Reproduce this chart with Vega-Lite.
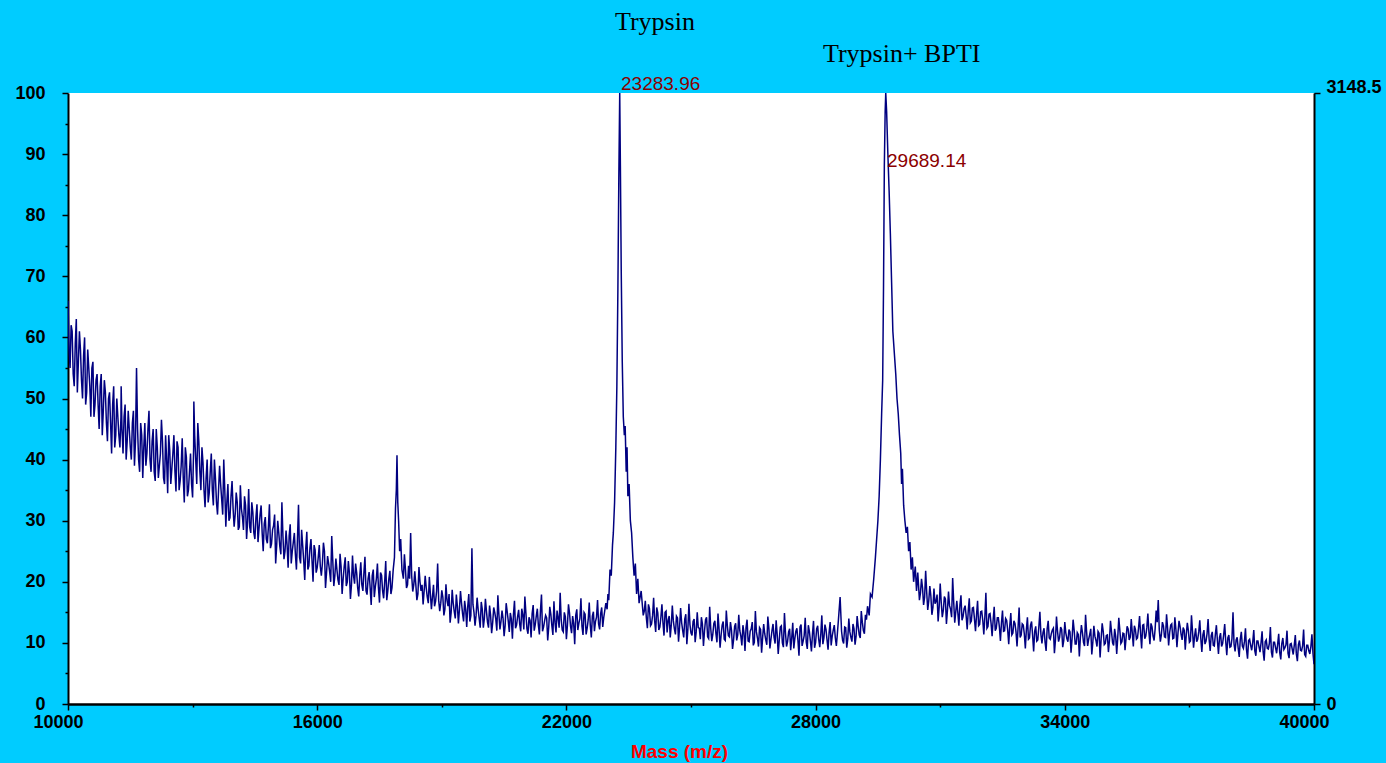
{
"$schema": "https://vega.github.io/schema/vega-lite/v6.json",
"width": 1246,
"height": 611,
"autosize": {"type": "none"},
"padding": {"left": 68, "top": 93, "right": 72, "bottom": 59},
"background": "#00CCFF",
"config": {"font": "Liberation Sans", "view": {"fill": "white", "stroke": null}},
"datasets": {
"spectrum": [
{"m":10000,"i":66},{"m":10050,"i":55},{"m":10100,"i":61},{"m":10150,"i":52},{"m":10200,"i":63},{"m":10250,"i":56},{"m":10300,"i":58},{"m":10350,"i":50},{"m":10400,"i":60},{"m":10450,"i":51},
{"m":10500,"i":55},{"m":10550,"i":47},{"m":10600,"i":56},{"m":10650,"i":49},{"m":10700,"i":54},{"m":10750,"i":45},{"m":10800,"i":54},{"m":10850,"i":48},{"m":10900,"i":51},{"m":10950,"i":43},
{"m":11000,"i":51},{"m":11050,"i":41},{"m":11100,"i":52},{"m":11150,"i":44},{"m":11200,"i":47},{"m":11250,"i":42},{"m":11280,"i":52},{"m":11300,"i":45},{"m":11350,"i":47},{"m":11400,"i":40},
{"m":11450,"i":48},{"m":11500,"i":42},{"m":11550,"i":46},{"m":11600,"i":39},{"m":11650,"i":55},{"m":11700,"i":40},{"m":11750,"i":46},{"m":11800,"i":37},{"m":11850,"i":46},{"m":11900,"i":41},
{"m":11950,"i":48},{"m":12000,"i":38},{"m":12050,"i":45},{"m":12100,"i":36.5},{"m":12150,"i":42},{"m":12200,"i":39},{"m":12250,"i":46.5},{"m":12300,"i":37},{"m":12350,"i":44},{"m":12400,"i":34.5},
{"m":12450,"i":41.5},{"m":12500,"i":38.5},{"m":12550,"i":44},{"m":12600,"i":34.8},{"m":12650,"i":42},{"m":12700,"i":36.5},{"m":12750,"i":43.5},{"m":12800,"i":33},{"m":12850,"i":40.4},{"m":12900,"i":35},
{"m":12950,"i":41},{"m":13000,"i":33.8},{"m":13030,"i":49.5},{"m":13050,"i":44},{"m":13100,"i":36},{"m":13150,"i":43},{"m":13200,"i":35},{"m":13250,"i":39.5},{"m":13300,"i":32.2},{"m":13350,"i":40},
{"m":13400,"i":34.5},{"m":13450,"i":41},{"m":13500,"i":32.5},{"m":13550,"i":37},{"m":13600,"i":31},{"m":13650,"i":39},{"m":13700,"i":33.5},{"m":13750,"i":40},{"m":13800,"i":29},{"m":13850,"i":36},
{"m":13900,"i":30.5},{"m":13950,"i":36.5},{"m":14000,"i":29},{"m":14050,"i":34.6},{"m":14100,"i":28.5},{"m":14150,"i":35.8},{"m":14200,"i":30.6},{"m":14250,"i":34},{"m":14300,"i":27},{"m":14350,"i":35.2},
{"m":14400,"i":28},{"m":14450,"i":31.4},{"m":14500,"i":27},{"m":14550,"i":32.7},{"m":14600,"i":28.8},{"m":14650,"i":32.5},{"m":14700,"i":25},{"m":14750,"i":30.6},{"m":14800,"i":26.3},{"m":14850,"i":32.7},
{"m":14900,"i":26.2},{"m":14950,"i":29.2},{"m":15000,"i":23},{"m":15050,"i":30},{"m":15100,"i":25.8},{"m":15150,"i":33},{"m":15200,"i":23.7},{"m":15250,"i":28.4},{"m":15300,"i":22.3},{"m":15350,"i":29.4},
{"m":15400,"i":25},{"m":15450,"i":28},{"m":15500,"i":22},{"m":15550,"i":32.6},{"m":15600,"i":23},{"m":15650,"i":26},{"m":15700,"i":20.3},{"m":15750,"i":28.2},{"m":15800,"i":22.6},{"m":15850,"i":27},
{"m":15900,"i":20},{"m":15950,"i":25.2},{"m":16000,"i":22.3},{"m":16050,"i":26},{"m":16100,"i":21},{"m":16150,"i":26.4},{"m":16200,"i":19},{"m":16250,"i":24.2},{"m":16300,"i":21.6},{"m":16350,"i":27.5},
{"m":16400,"i":19.3},{"m":16450,"i":23.8},{"m":16500,"i":20.3},{"m":16550,"i":24.6},{"m":16600,"i":18},{"m":16650,"i":22.5},{"m":16700,"i":19.3},{"m":16750,"i":23.4},{"m":16800,"i":17.2},{"m":16850,"i":24.3},
{"m":16900,"i":19.7},{"m":16950,"i":21.5},{"m":17000,"i":17.6},{"m":17050,"i":23.2},{"m":17100,"i":18.5},{"m":17150,"i":24.1},{"m":17200,"i":17.9},{"m":17250,"i":21.6},{"m":17300,"i":16.2},{"m":17350,"i":22},
{"m":17400,"i":19.2},{"m":17450,"i":23},{"m":17500,"i":16.6},{"m":17550,"i":21.1},{"m":17600,"i":17.3},{"m":17650,"i":23.4},{"m":17700,"i":18.5},{"m":17750,"i":21.8},{"m":17800,"i":19},{"m":17830,"i":22},
{"m":17860,"i":24},{"m":17885,"i":32},{"m":17905,"i":35},{"m":17921,"i":40.7},{"m":17940,"i":33},{"m":17960,"i":30},{"m":17985,"i":25},{"m":18010,"i":27},{"m":18040,"i":22},{"m":18100,"i":24.5},
{"m":18150,"i":19},{"m":18200,"i":22.6},{"m":18250,"i":28},{"m":18300,"i":18.4},{"m":18350,"i":21.7},{"m":18400,"i":17},{"m":18450,"i":22.4},{"m":18500,"i":18.5},{"m":18550,"i":16.3},{"m":18600,"i":21},
{"m":18650,"i":17.5},{"m":18700,"i":20.8},{"m":18750,"i":15.5},{"m":18800,"i":19.5},{"m":18850,"i":16.8},{"m":18900,"i":23},{"m":18950,"i":15.2},{"m":19000,"i":18.6},{"m":19050,"i":14.5},{"m":19100,"i":19.6},
{"m":19150,"i":16},{"m":19200,"i":13.3},{"m":19250,"i":18.7},{"m":19300,"i":15.1},{"m":19350,"i":17.9},{"m":19400,"i":13.2},{"m":19450,"i":18.5},{"m":19500,"i":14.8},{"m":19550,"i":16.9},{"m":19600,"i":12.6},
{"m":19650,"i":18},{"m":19700,"i":14.5},{"m":19725,"i":25.5},{"m":19750,"i":16.3},{"m":19800,"i":12.8},{"m":19850,"i":17.4},{"m":19900,"i":14},{"m":19950,"i":16.7},{"m":20000,"i":12.5},{"m":20050,"i":17.2},
{"m":20100,"i":13.4},{"m":20150,"i":16.1},{"m":20200,"i":11.6},{"m":20250,"i":15.8},{"m":20300,"i":13.9},{"m":20350,"i":17.8},{"m":20400,"i":12.2},{"m":20450,"i":15.3},{"m":20500,"i":11.1},{"m":20550,"i":16.5},
{"m":20600,"i":13.6},{"m":20650,"i":14.9},{"m":20700,"i":10.7},{"m":20750,"i":16.9},{"m":20800,"i":12.9},{"m":20850,"i":15.4},{"m":20900,"i":11.9},{"m":20950,"i":14.6},{"m":21000,"i":17.6},{"m":21050,"i":12.3},
{"m":21100,"i":14.2},{"m":21150,"i":10.9},{"m":21200,"i":16.2},{"m":21250,"i":13},{"m":21300,"i":15.6},{"m":21350,"i":11.4},{"m":21400,"i":17.9},{"m":21450,"i":12.6},{"m":21500,"i":14.5},{"m":21550,"i":10.4},
{"m":21600,"i":15.9},{"m":21650,"i":12.8},{"m":21700,"i":16.8},{"m":21750,"i":11.7},{"m":21800,"i":14.1},{"m":21850,"i":18.2},{"m":21900,"i":12.1},{"m":21950,"i":15},{"m":22000,"i":10.6},{"m":22050,"i":16.3},
{"m":22100,"i":12.7},{"m":22150,"i":14.4},{"m":22200,"i":9.8},{"m":22250,"i":15.5},{"m":22300,"i":13.2},{"m":22350,"i":17.3},{"m":22400,"i":11.3},{"m":22450,"i":14.7},{"m":22500,"i":12.4},{"m":22550,"i":16.6},
{"m":22600,"i":10.9},{"m":22650,"i":15.1},{"m":22700,"i":13.5},{"m":22750,"i":17},{"m":22800,"i":12.2},{"m":22850,"i":15.8},{"m":22900,"i":14.2},{"m":22950,"i":16.5},{"m":22980,"i":15.5},{"m":23000,"i":18},
{"m":23020,"i":17},{"m":23050,"i":22},{"m":23080,"i":21},{"m":23110,"i":26},{"m":23130,"i":28},{"m":23160,"i":33},{"m":23190,"i":42},{"m":23215,"i":52},{"m":23240,"i":68},{"m":23262,"i":86},
{"m":23284,"i":100},{"m":23300,"i":88},{"m":23320,"i":71},{"m":23345,"i":56},{"m":23370,"i":47},{"m":23395,"i":44},{"m":23415,"i":45.5},{"m":23440,"i":38},{"m":23460,"i":42},{"m":23480,"i":34},
{"m":23510,"i":36},{"m":23540,"i":30},{"m":23570,"i":28},{"m":23600,"i":24},{"m":23630,"i":21},{"m":23660,"i":23},{"m":23690,"i":18},{"m":23720,"i":20.5},{"m":23750,"i":16.5},{"m":23800,"i":18.5},
{"m":23850,"i":14.5},{"m":23900,"i":16.9},{"m":23950,"i":12.4},{"m":24000,"i":15.6},{"m":24050,"i":13.1},{"m":24100,"i":17.4},{"m":24150,"i":11.8},{"m":24200,"i":14.9},{"m":24250,"i":12.6},{"m":24300,"i":16.3},
{"m":24350,"i":11.2},{"m":24400,"i":15.2},{"m":24450,"i":13.7},{"m":24500,"i":10.9},{"m":24550,"i":16.1},{"m":24600,"i":12.3},{"m":24650,"i":14.4},{"m":24700,"i":10.2},{"m":24750,"i":15.7},{"m":24800,"i":12},
{"m":24850,"i":13.9},{"m":24900,"i":9.8},{"m":24950,"i":16.4},{"m":25000,"i":11.6},{"m":25050,"i":13.5},{"m":25100,"i":10.1},{"m":25150,"i":15},{"m":25200,"i":12.4},{"m":25250,"i":14.2},{"m":25300,"i":9.5},
{"m":25350,"i":13.8},{"m":25400,"i":11},{"m":25450,"i":15.9},{"m":25500,"i":10.3},{"m":25550,"i":13.2},{"m":25600,"i":11.5},{"m":25650,"i":14.8},{"m":25700,"i":9.2},{"m":25750,"i":12.9},{"m":25800,"i":10.6},
{"m":25850,"i":15.3},{"m":25900,"i":11.2},{"m":25950,"i":13.4},{"m":26000,"i":9},{"m":26050,"i":12.7},{"m":26100,"i":10.4},{"m":26150,"i":14.6},{"m":26200,"i":11.1},{"m":26250,"i":12.9},{"m":26300,"i":8.7},
{"m":26350,"i":13.8},{"m":26400,"i":10.2},{"m":26450,"i":12.3},{"m":26500,"i":9.6},{"m":26550,"i":15.2},{"m":26600,"i":10.8},{"m":26650,"i":12.5},{"m":26700,"i":8.4},{"m":26750,"i":13.1},{"m":26800,"i":10.5},
{"m":26850,"i":14.3},{"m":26900,"i":9.1},{"m":26950,"i":12},{"m":27000,"i":10.9},{"m":27050,"i":13.7},{"m":27100,"i":8.2},{"m":27150,"i":12.6},{"m":27200,"i":10},{"m":27250,"i":14.9},{"m":27300,"i":9.4},
{"m":27350,"i":11.8},{"m":27400,"i":8.8},{"m":27450,"i":13.3},{"m":27500,"i":10.7},{"m":27550,"i":12.4},{"m":27600,"i":7.9},{"m":27650,"i":13},{"m":27700,"i":10.3},{"m":27750,"i":14.1},{"m":27800,"i":9},
{"m":27850,"i":11.9},{"m":27900,"i":8.6},{"m":27950,"i":13.6},{"m":28000,"i":10.1},{"m":28050,"i":12.8},{"m":28100,"i":9.3},{"m":28150,"i":14.5},{"m":28200,"i":10.8},{"m":28250,"i":12.2},{"m":28300,"i":8.9},
{"m":28350,"i":13.4},{"m":28400,"i":11.1},{"m":28450,"i":12.9},{"m":28500,"i":9.5},{"m":28550,"i":13.8},{"m":28590,"i":17.5},{"m":28650,"i":10.4},{"m":28700,"i":12.6},{"m":28750,"i":9.2},{"m":28800,"i":14},
{"m":28850,"i":10.9},{"m":28900,"i":13.1},{"m":28950,"i":9.7},{"m":29000,"i":14.4},{"m":29050,"i":11.3},{"m":29100,"i":15.2},{"m":29150,"i":12},{"m":29200,"i":14.6},{"m":29250,"i":16},{"m":29290,"i":14.5},
{"m":29320,"i":18},{"m":29360,"i":17.5},{"m":29400,"i":20.5},{"m":29440,"i":24},{"m":29470,"i":27},{"m":29500,"i":30},{"m":29530,"i":34},{"m":29560,"i":40},{"m":29590,"i":47.5},{"m":29615,"i":53},
{"m":29635,"i":68},{"m":29655,"i":88},{"m":29675,"i":97},{"m":29689,"i":100},{"m":29710,"i":97},{"m":29740,"i":90},{"m":29770,"i":84},{"m":29800,"i":77},{"m":29830,"i":69},{"m":29860,"i":61},
{"m":29900,"i":57},{"m":29930,"i":54},{"m":29960,"i":50},{"m":29990,"i":47.5},{"m":30020,"i":44},{"m":30050,"i":41},{"m":30070,"i":36},{"m":30090,"i":38.5},{"m":30120,"i":32.5},{"m":30150,"i":30},
{"m":30180,"i":28},{"m":30210,"i":29},{"m":30240,"i":25},{"m":30270,"i":26.5},{"m":30300,"i":22},{"m":30330,"i":24},{"m":30360,"i":20},{"m":30400,"i":22.5},{"m":30430,"i":18.5},{"m":30460,"i":21.5},
{"m":30500,"i":17},{"m":30550,"i":20.5},{"m":30600,"i":16.2},{"m":30650,"i":21.8},{"m":30700,"i":15.4},{"m":30750,"i":19.3},{"m":30800,"i":14.6},{"m":30850,"i":18.9},{"m":30900,"i":16.8},{"m":30950,"i":13.5},
{"m":31000,"i":19.7},{"m":31050,"i":14.2},{"m":31100,"i":17.6},{"m":31150,"i":13.1},{"m":31200,"i":18.4},{"m":31250,"i":15.5},{"m":31300,"i":20.6},{"m":31350,"i":13.3},{"m":31400,"i":16.9},{"m":31450,"i":12.8},
{"m":31500,"i":17.8},{"m":31550,"i":14.3},{"m":31600,"i":16.1},{"m":31650,"i":12.2},{"m":31700,"i":17.3},{"m":31750,"i":13.6},{"m":31800,"i":15.8},{"m":31850,"i":11.9},{"m":31900,"i":16.9},{"m":31950,"i":13},
{"m":32000,"i":15.2},{"m":32050,"i":11.4},{"m":32100,"i":18.2},{"m":32150,"i":12.7},{"m":32200,"i":14.8},{"m":32250,"i":11.1},{"m":32300,"i":15.9},{"m":32350,"i":12.4},{"m":32400,"i":14.1},{"m":32450,"i":10.3},
{"m":32500,"i":15.3},{"m":32550,"i":12},{"m":32600,"i":13.7},{"m":32650,"i":9.8},{"m":32700,"i":14.9},{"m":32750,"i":11.6},{"m":32800,"i":13.2},{"m":32850,"i":9.4},{"m":32900,"i":15.8},{"m":32950,"i":11.3},
{"m":33000,"i":12.9},{"m":33050,"i":9.1},{"m":33100,"i":14.2},{"m":33150,"i":10.8},{"m":33200,"i":13.5},{"m":33250,"i":8.6},{"m":33300,"i":12.7},{"m":33350,"i":10.5},{"m":33400,"i":15.1},{"m":33450,"i":9.9},
{"m":33500,"i":12.4},{"m":33550,"i":8.7},{"m":33600,"i":13.6},{"m":33650,"i":10.6},{"m":33700,"i":12.1},{"m":33750,"i":8.3},{"m":33800,"i":14.3},{"m":33850,"i":10.2},{"m":33900,"i":12.6},{"m":33950,"i":9.3},
{"m":34000,"i":13.4},{"m":34050,"i":10.7},{"m":34100,"i":12.2},{"m":34150,"i":8.4},{"m":34200,"i":13.8},{"m":34250,"i":9.8},{"m":34300,"i":11.7},{"m":34350,"i":7.8},{"m":34400,"i":12.9},{"m":34450,"i":10.1},
{"m":34500,"i":14.6},{"m":34550,"i":9.5},{"m":34600,"i":11.4},{"m":34650,"i":8.1},{"m":34700,"i":12.8},{"m":34750,"i":10.4},{"m":34800,"i":11.9},{"m":34850,"i":7.6},{"m":34900,"i":13.2},{"m":34950,"i":9.7},
{"m":35000,"i":11.2},{"m":35050,"i":8.5},{"m":35100,"i":13.6},{"m":35150,"i":10},{"m":35200,"i":12.3},{"m":35250,"i":8.2},{"m":35300,"i":14.1},{"m":35350,"i":9.9},{"m":35400,"i":11.6},{"m":35450,"i":8.8},
{"m":35500,"i":12.7},{"m":35550,"i":10.5},{"m":35600,"i":13.9},{"m":35650,"i":9.4},{"m":35700,"i":12.2},{"m":35750,"i":10.8},{"m":35800,"i":14.4},{"m":35850,"i":9.1},{"m":35900,"i":13},{"m":35950,"i":11.1},
{"m":36000,"i":14.8},{"m":36050,"i":9.8},{"m":36100,"i":12.6},{"m":36150,"i":10.4},{"m":36200,"i":15.3},{"m":36250,"i":17},{"m":36300,"i":10.2},{"m":36350,"i":13.4},{"m":36400,"i":11},{"m":36450,"i":14.7},
{"m":36500,"i":9.6},{"m":36550,"i":12.9},{"m":36600,"i":10.7},{"m":36650,"i":14.2},{"m":36700,"i":9.3},{"m":36750,"i":13.6},{"m":36800,"i":11.4},{"m":36850,"i":12.5},{"m":36900,"i":8.9},{"m":36950,"i":13.3},
{"m":37000,"i":10.1},{"m":37050,"i":14.5},{"m":37100,"i":9.2},{"m":37150,"i":12.4},{"m":37200,"i":10.6},{"m":37250,"i":13.7},{"m":37300,"i":8.5},{"m":37350,"i":12.1},{"m":37400,"i":10.3},{"m":37450,"i":13.9},
{"m":37500,"i":8.7},{"m":37550,"i":11.8},{"m":37600,"i":9.5},{"m":37650,"i":12.9},{"m":37700,"i":8.2},{"m":37750,"i":11.6},{"m":37800,"i":9.9},{"m":37850,"i":13.1},{"m":37900,"i":8},{"m":37950,"i":11.3},
{"m":38000,"i":9.4},{"m":38050,"i":15},{"m":38100,"i":8.6},{"m":38150,"i":10.9},{"m":38200,"i":7.7},{"m":38250,"i":11.8},{"m":38300,"i":9.1},{"m":38350,"i":12.4},{"m":38400,"i":7.4},{"m":38450,"i":10.6},
{"m":38500,"i":8.8},{"m":38550,"i":12.1},{"m":38600,"i":7.9},{"m":38650,"i":10.3},{"m":38700,"i":8.5},{"m":38750,"i":11.9},{"m":38800,"i":7.1},{"m":38850,"i":10.5},{"m":38900,"i":9},{"m":38950,"i":12.6},
{"m":39000,"i":7.6},{"m":39050,"i":10.1},{"m":39100,"i":8.3},{"m":39150,"i":11.5},{"m":39200,"i":7.3},{"m":39250,"i":10.8},{"m":39300,"i":9.2},{"m":39350,"i":12},{"m":39400,"i":7.5},{"m":39450,"i":9.9},
{"m":39500,"i":8.1},{"m":39550,"i":11.3},{"m":39600,"i":7},{"m":39650,"i":10.4},{"m":39700,"i":8.7},{"m":39750,"i":12.2},{"m":39800,"i":7.8},{"m":39850,"i":9.6},{"m":39900,"i":8.2},{"m":39950,"i":11.4},
{"m":40000,"i":6.5},
{"m":10025,"i":58},{"m":10075,"i":62},{"m":10125,"i":54},{"m":10175,"i":59},{"m":10225,"i":51},{"m":10275,"i":61},{"m":10325,"i":53},{"m":10375,"i":57},{"m":10425,"i":49},{"m":10475,"i":58},
{"m":10525,"i":52},{"m":10575,"i":55},{"m":10625,"i":47},{"m":10675,"i":53},{"m":10725,"i":49},{"m":10775,"i":52},{"m":10825,"i":44},{"m":10875,"i":53},{"m":10925,"i":46},{"m":10975,"i":50},
{"m":11025,"i":46},{"m":11075,"i":49},{"m":11125,"i":42},{"m":11175,"i":50},{"m":11225,"i":44},{"m":11275,"i":47},{"m":11325,"i":41},{"m":11375,"i":49},{"m":11425,"i":43},{"m":11475,"i":45},
{"m":11525,"i":40},{"m":11575,"i":48},{"m":11625,"i":43},{"m":11675,"i":45},{"m":11725,"i":38},{"m":11775,"i":44},{"m":11825,"i":42},{"m":11875,"i":39},{"m":11925,"i":45},{"m":11975,"i":40},
{"m":12025,"i":43},{"m":12075,"i":38},{"m":12125,"i":45},{"m":12175,"i":37},{"m":12225,"i":41},{"m":12275,"i":43},{"m":12325,"i":36},{"m":12375,"i":40},{"m":12425,"i":44},{"m":12475,"i":36},
{"m":12525,"i":41},{"m":12575,"i":38},{"m":12625,"i":43},{"m":12675,"i":35},{"m":12725,"i":39},{"m":12775,"i":37},{"m":12825,"i":42},{"m":12875,"i":34},{"m":12925,"i":38},{"m":12975,"i":36},
{"m":13025,"i":42},{"m":13075,"i":40},{"m":13125,"i":46},{"m":13175,"i":38},{"m":13225,"i":42},{"m":13275,"i":35},{"m":13325,"i":37},{"m":13375,"i":33},{"m":13425,"i":38},{"m":13475,"i":35},
{"m":13525,"i":40},{"m":13575,"i":33},{"m":13625,"i":35},{"m":13675,"i":36},{"m":13725,"i":31},{"m":13775,"i":35},{"m":13825,"i":33},{"m":13875,"i":30},{"m":13925,"i":34},{"m":13975,"i":32},
{"m":14025,"i":31},{"m":14075,"i":33},{"m":14125,"i":29},{"m":14175,"i":32},{"m":14225,"i":28.5},{"m":14275,"i":32.5},{"m":14325,"i":30},{"m":14375,"i":29},{"m":14425,"i":33},{"m":14475,"i":28},
{"m":14525,"i":30.5},{"m":14575,"i":26.5},{"m":14625,"i":31},{"m":14675,"i":28},{"m":14725,"i":29.5},{"m":14775,"i":27},{"m":14825,"i":29},{"m":14875,"i":25.5},{"m":14925,"i":28.5},{"m":14975,"i":31},
{"m":15025,"i":26},{"m":15075,"i":28},{"m":15125,"i":24.5},{"m":15175,"i":27.5},{"m":15225,"i":25},{"m":15275,"i":26},{"m":15325,"i":27.5},{"m":15375,"i":23},{"m":15425,"i":26.5},{"m":15475,"i":24.5},
{"m":15525,"i":27},{"m":15575,"i":24},{"m":15625,"i":28.5},{"m":15675,"i":23.5},{"m":15725,"i":25.5},{"m":15775,"i":22},{"m":15825,"i":25.5},{"m":15875,"i":23.5},{"m":15925,"i":26},{"m":15975,"i":21.5},
{"m":16025,"i":24},{"m":16075,"i":22.5},{"m":16125,"i":23},{"m":16175,"i":25},{"m":16225,"i":21.5},{"m":16275,"i":23},{"m":16325,"i":20},{"m":16375,"i":23.5},{"m":16425,"i":21},{"m":16475,"i":22},
{"m":16525,"i":19.5},{"m":16575,"i":22.5},{"m":16625,"i":20.5},{"m":16675,"i":24},{"m":16725,"i":20},{"m":16775,"i":21.5},{"m":16825,"i":19.5},{"m":16875,"i":21},{"m":16925,"i":23},{"m":16975,"i":19},
{"m":17025,"i":21},{"m":17075,"i":19.5},{"m":17125,"i":21.5},{"m":17175,"i":18.5},{"m":17225,"i":20.5},{"m":17275,"i":19},{"m":17325,"i":21},{"m":17375,"i":17.5},{"m":17425,"i":20.5},{"m":17475,"i":19},
{"m":17525,"i":21.5},{"m":17575,"i":18.5},{"m":17625,"i":20},{"m":17675,"i":17},{"m":17725,"i":20.5},{"m":17775,"i":18},
{"m":18075,"i":20.5},{"m":18125,"i":22},{"m":18175,"i":19.5},{"m":18225,"i":20.5},{"m":18275,"i":21},{"m":18325,"i":19.5},{"m":18375,"i":19.5},{"m":18425,"i":18},{"m":18475,"i":20},{"m":18525,"i":19.5},
{"m":18575,"i":18.5},{"m":18625,"i":19},{"m":18675,"i":16.5},{"m":18725,"i":18},{"m":18775,"i":17.5},{"m":18825,"i":16},{"m":18875,"i":18.5},{"m":18925,"i":17},{"m":18975,"i":16.5},{"m":19025,"i":17.5},
{"m":19075,"i":15.5},{"m":19125,"i":17},{"m":19175,"i":18},{"m":19225,"i":15},{"m":19275,"i":16.5},{"m":19325,"i":14},{"m":19375,"i":16},{"m":19425,"i":15.5},{"m":19475,"i":16.5},{"m":19525,"i":13.5},
{"m":19575,"i":15.5},{"m":19625,"i":16},{"m":19675,"i":13.5},{"m":19775,"i":15},{"m":19825,"i":14.5},{"m":19875,"i":15.5},{"m":19925,"i":12.5},{"m":19975,"i":15.5},
{"m":20025,"i":14},{"m":20075,"i":15.2},{"m":20125,"i":12.5},{"m":20175,"i":14.5},{"m":20225,"i":13.3},{"m":20275,"i":15},{"m":20325,"i":12},{"m":20375,"i":14.6},{"m":20425,"i":13.5},{"m":20475,"i":14},
{"m":20525,"i":12.8},{"m":20575,"i":15.1},{"m":20625,"i":11.8},{"m":20675,"i":13.9},{"m":20725,"i":14.6},{"m":20775,"i":12.4},{"m":20825,"i":14.3},{"m":20875,"i":13.1},{"m":20925,"i":15.6},{"m":20975,"i":12.2},
{"m":21025,"i":14.9},{"m":21075,"i":11.5},{"m":21125,"i":13.7},{"m":21175,"i":14.8},{"m":21225,"i":12},{"m":21275,"i":14.4},{"m":21325,"i":12.9},{"m":21375,"i":15.2},{"m":21425,"i":11.9},{"m":21475,"i":13.6},
{"m":21525,"i":14.1},{"m":21575,"i":12.6},{"m":21625,"i":14.7},{"m":21675,"i":11.3},{"m":21725,"i":13.4},{"m":21775,"i":15.3},{"m":21825,"i":12.5},{"m":21875,"i":13.8},{"m":21925,"i":11.8},{"m":21975,"i":14.3},
{"m":22025,"i":12.9},{"m":22075,"i":14.9},{"m":22125,"i":11.6},{"m":22175,"i":13.2},{"m":22225,"i":14.5},{"m":22275,"i":12.1},{"m":22325,"i":14},{"m":22375,"i":12.7},{"m":22425,"i":15},{"m":22475,"i":11.4},
{"m":22525,"i":13.8},{"m":22575,"i":12.9},{"m":22625,"i":14.4},{"m":22675,"i":11.9},{"m":22725,"i":14.2},{"m":22775,"i":13.1},{"m":22825,"i":14.8},{"m":22875,"i":12.6},
{"m":23875,"i":15.2},{"m":23925,"i":14.1},{"m":23975,"i":16.3},{"m":24025,"i":12.8},{"m":24075,"i":14.5},{"m":24125,"i":13.6},{"m":24175,"i":15.8},{"m":24225,"i":12.1},{"m":24275,"i":14.2},{"m":24325,"i":13.3},
{"m":24375,"i":15},{"m":24425,"i":11.7},{"m":24475,"i":14.4},{"m":24525,"i":12.9},{"m":24575,"i":13.6},{"m":24625,"i":11.4},{"m":24675,"i":14.1},{"m":24725,"i":12.6},{"m":24775,"i":13.3},{"m":24825,"i":10.9},
{"m":24875,"i":14.7},{"m":24925,"i":12.3},{"m":24975,"i":13},{"m":25025,"i":11.2},{"m":25075,"i":13.9},{"m":25125,"i":11.8},{"m":25175,"i":12.5},{"m":25225,"i":10.6},{"m":25275,"i":13.1},{"m":25325,"i":11.9},
{"m":25375,"i":14.2},{"m":25425,"i":10.7},{"m":25475,"i":12.4},{"m":25525,"i":11.4},{"m":25575,"i":13.6},{"m":25625,"i":10.1},{"m":25675,"i":12.3},{"m":25725,"i":11.3},{"m":25775,"i":13.5},{"m":25825,"i":10.4},
{"m":25875,"i":12.8},{"m":25925,"i":11},{"m":25975,"i":12.1},{"m":26025,"i":10.5},{"m":26075,"i":13.2},{"m":26125,"i":11.3},{"m":26175,"i":12},{"m":26225,"i":9.6},{"m":26275,"i":11.7},{"m":26325,"i":12.5},
{"m":26375,"i":10.3},{"m":26425,"i":11.9},{"m":26475,"i":13.4},{"m":26525,"i":10.1},{"m":26575,"i":11.8},{"m":26625,"i":9.4},{"m":26675,"i":12.2},{"m":26725,"i":10.9},{"m":26775,"i":11.5},{"m":26825,"i":9.7},
{"m":26875,"i":12.4},{"m":26925,"i":10.6},{"m":26975,"i":13.1},{"m":27025,"i":9.9},{"m":27075,"i":11.4},{"m":27125,"i":10.5},{"m":27175,"i":12.8},{"m":27225,"i":9.3},{"m":27275,"i":11.6},{"m":27325,"i":10.2},
{"m":27375,"i":12.3},{"m":27425,"i":10.8},{"m":27475,"i":9.1},{"m":27525,"i":11.9},{"m":27575,"i":10.4},{"m":27625,"i":12.6},{"m":27675,"i":9.5},{"m":27725,"i":11.2},{"m":27775,"i":10.1},{"m":27825,"i":12.9},
{"m":27875,"i":10.3},{"m":27925,"i":11.5},{"m":27975,"i":9.2},{"m":28025,"i":12.3},{"m":28075,"i":10.6},{"m":28125,"i":11.4},{"m":28175,"i":9.8},{"m":28225,"i":13},{"m":28275,"i":10.5},{"m":28325,"i":11.7},
{"m":28375,"i":9.6},{"m":28425,"i":12.1},{"m":28475,"i":10.8},{"m":28525,"i":11.6},{"m":28625,"i":11.9},{"m":28675,"i":9.9},{"m":28725,"i":12.5},{"m":28775,"i":10.7},{"m":28825,"i":11.8},{"m":28875,"i":10.2},
{"m":28925,"i":12.3},{"m":28975,"i":11.1},{"m":29025,"i":12.7},{"m":29075,"i":10.8},{"m":29125,"i":13.4},{"m":29175,"i":11.5},{"m":29225,"i":13.8},
{"m":30525,"i":18.2},{"m":30575,"i":19},{"m":30625,"i":17.5},{"m":30675,"i":18.3},{"m":30725,"i":16.9},{"m":30775,"i":17.7},{"m":30825,"i":15.8},{"m":30875,"i":16.4},{"m":30925,"i":17.9},{"m":30975,"i":15.9},
{"m":31025,"i":16.6},{"m":31075,"i":15.3},{"m":31125,"i":17.2},{"m":31175,"i":15.4},{"m":31225,"i":16.1},{"m":31275,"i":14.2},{"m":31325,"i":16.7},{"m":31375,"i":15.1},{"m":31425,"i":14.9},{"m":31475,"i":16.2},
{"m":31525,"i":13.7},{"m":31575,"i":15.6},{"m":31625,"i":14.4},{"m":31675,"i":15.2},{"m":31725,"i":13.3},{"m":31775,"i":15.7},{"m":31825,"i":13.9},{"m":31875,"i":14.6},{"m":31925,"i":12.8},{"m":31975,"i":15.1},
{"m":32025,"i":13.7},{"m":32075,"i":14.2},{"m":32125,"i":12.4},{"m":32175,"i":14.7},{"m":32225,"i":13.2},{"m":32275,"i":13.8},{"m":32325,"i":12},{"m":32375,"i":14.1},{"m":32425,"i":12.6},{"m":32475,"i":13.3},
{"m":32525,"i":11.9},{"m":32575,"i":14},{"m":32625,"i":12.1},{"m":32675,"i":12.8},{"m":32725,"i":11.3},{"m":32775,"i":13.6},{"m":32825,"i":11.8},{"m":32875,"i":12.5},{"m":32925,"i":10.9},{"m":32975,"i":13.1},
{"m":33025,"i":11.5},{"m":33075,"i":12.2},{"m":33125,"i":10.6},{"m":33175,"i":12.9},{"m":33225,"i":11.2},{"m":33275,"i":11.9},{"m":33325,"i":10.3},{"m":33375,"i":12.6},{"m":33425,"i":11.4},{"m":33475,"i":11.7},
{"m":33525,"i":10.1},{"m":33575,"i":12.3},{"m":33625,"i":10.8},{"m":33675,"i":11.5},{"m":33725,"i":12.4},{"m":33775,"i":10.5},{"m":33825,"i":11.9},{"m":33875,"i":10.9},{"m":33925,"i":12.2},{"m":33975,"i":10.4},
{"m":34025,"i":11.6},{"m":34075,"i":10.2},{"m":34125,"i":11.8},{"m":34175,"i":10.7},{"m":34225,"i":12.1},{"m":34275,"i":9.8},{"m":34325,"i":11.4},{"m":34375,"i":10.9},{"m":34425,"i":11.7},{"m":34475,"i":9.5},
{"m":34525,"i":11.8},{"m":34575,"i":10.6},{"m":34625,"i":12.3},{"m":34675,"i":10.1},{"m":34725,"i":11.1},{"m":34775,"i":9.4},{"m":34825,"i":11.6},{"m":34875,"i":10.7},{"m":34925,"i":11.9},{"m":34975,"i":9.9},
{"m":35025,"i":11.3},{"m":35075,"i":10.4},{"m":35125,"i":11.8},{"m":35175,"i":9.6},{"m":35225,"i":11.1},{"m":35275,"i":10.9},{"m":35325,"i":12.1},{"m":35375,"i":10.2},{"m":35425,"i":11.5},{"m":35475,"i":10.8},
{"m":35525,"i":12.3},{"m":35575,"i":10.9},{"m":35625,"i":11.6},{"m":35675,"i":12.8},{"m":35725,"i":10.6},{"m":35775,"i":12.4},{"m":35825,"i":11.5},{"m":35875,"i":12.9},{"m":35925,"i":10.7},{"m":35975,"i":12.5},
{"m":36025,"i":11.8},{"m":36075,"i":13.2},{"m":36125,"i":11.1},{"m":36175,"i":12.3},{"m":36225,"i":13.4},{"m":36275,"i":12.1},{"m":36325,"i":11.3},{"m":36375,"i":12.8},{"m":36425,"i":10.9},{"m":36475,"i":12.4},
{"m":36525,"i":11.7},{"m":36575,"i":13.1},{"m":36625,"i":10.8},{"m":36675,"i":12.2},{"m":36725,"i":11.6},{"m":36775,"i":12.7},{"m":36825,"i":10.5},{"m":36875,"i":12.1},{"m":36925,"i":11.4},{"m":36975,"i":12},
{"m":37025,"i":10.3},{"m":37075,"i":11.9},{"m":37125,"i":11.1},{"m":37175,"i":10.2},{"m":37225,"i":11.8},{"m":37275,"i":10.7},{"m":37325,"i":11.3},{"m":37375,"i":9.8},{"m":37425,"i":11.5},{"m":37475,"i":10.6},
{"m":37525,"i":11.2},{"m":37575,"i":9.6},{"m":37625,"i":11.4},{"m":37675,"i":10.3},{"m":37725,"i":10.9},{"m":37775,"i":9.4},{"m":37825,"i":11.3},{"m":37875,"i":10.2},{"m":37925,"i":10.8},{"m":37975,"i":9.3},
{"m":38025,"i":10.7},{"m":38075,"i":9.8},{"m":38125,"i":10.5},{"m":38175,"i":9.1},{"m":38225,"i":10.6},{"m":38275,"i":9.5},{"m":38325,"i":10.2},{"m":38375,"i":8.9},{"m":38425,"i":10.4},{"m":38475,"i":9.6},
{"m":38525,"i":10.1},{"m":38575,"i":8.7},{"m":38625,"i":10.3},{"m":38675,"i":9.4},{"m":38725,"i":10},{"m":38775,"i":8.6},{"m":38825,"i":10.2},{"m":38875,"i":9.1},{"m":38925,"i":9.9},{"m":38975,"i":8.5},
{"m":39025,"i":10.1},{"m":39075,"i":9.2},{"m":39125,"i":9.8},{"m":39175,"i":8.4},{"m":39225,"i":9.9},{"m":39275,"i":8.9},{"m":39325,"i":9.7},{"m":39375,"i":8.3},{"m":39425,"i":9.8},{"m":39475,"i":9},
{"m":39525,"i":9.6},{"m":39575,"i":8.2},{"m":39625,"i":9.7},{"m":39675,"i":8.8},{"m":39725,"i":9.5},{"m":39775,"i":8.1},{"m":39825,"i":9.6},{"m":39875,"i":8.7},{"m":39925,"i":9.4},{"m":39975,"i":8.3}
],
"names": [
{"m":23170,"i":110.3,"t":"Trypsin"},
{"m":28178,"i":105.1,"t":"Trypsin+ BPTI"}
],
"peaks": [
{"m":23315,"i":100.5,"t":"23283.96"},
{"m":29720,"i":87.9,"t":"29689.14"}
],
"rightaxis": [
{"c":0,"m":40000},{"c":3148.5,"m":40000}
]
},
"encoding": {
"x": {"field": "m", "type": "quantitative",
"scale": {"domain": [10000, 40000], "nice": false, "zero": false},
"axis": {
"title": "Mass (m/z)", "titleColor": "#FF0000", "titleFont": "Liberation Sans", "titleFontSize": 19, "titleFontWeight": "bold",
"titlePadding": 11, "titleX": 611,
"values": [10000,13000,16000,19000,22000,25000,28000,31000,34000,37000,40000],
"format": "d",
"labelExpr": "datum.value % 6000 == 4000 ? datum.label : ''",
"labelFont": "Liberation Sans", "labelFontSize": 18, "labelFontWeight": "bold", "labelColor": "black",
"labelFlush": false, "labelOverlap": false, "labelPadding": 3,
"labelOffset": {"condition": {"test": "datum.value == 10000 || datum.value == 40000", "value": -10}, "value": 0},
"tickSize": {"condition": {"test": "datum.value % 6000 == 4000", "value": 6}, "value": 3},
"tickColor": "black", "tickWidth": 1.5,
"domainColor": "black", "domainWidth": 2.5, "grid": false
}
}
},
"layer": [
{
"data": {"name": "spectrum"},
"mark": {"type": "line", "color": "#000080", "strokeWidth": 1.5, "clip": true},
"encoding": {
"y": {"field": "i", "type": "quantitative",
"scale": {"domain": [0, 100], "nice": false},
"axis": {
"title": null,
"values": [0,5,10,15,20,25,30,35,40,45,50,55,60,65,70,75,80,85,90,95,100],
"format": "d",
"labelExpr": "datum.value % 10 == 0 ? datum.label : ''",
"labelFont": "Liberation Sans", "labelFontSize": 18, "labelFontWeight": "bold", "labelColor": "black",
"labelPadding": 17, "labelOverlap": false, "labelBaseline": "middle",
"tickSize": {"condition": {"test": "datum.value % 10 == 0", "value": 6}, "value": 3},
"tickColor": "black", "tickWidth": 1.5,
"domainColor": "black", "domainWidth": 2, "grid": false
}
}
}
},
{
"data": {"name": "names"},
"mark": {"type": "text", "font": "Liberation Serif", "fontSize": 26, "color": "black", "align": "left", "baseline": "alphabetic"},
"encoding": {
"y": {"field": "i", "type": "quantitative", "scale": {"domain": [0, 100], "nice": false}, "axis": null},
"text": {"field": "t"}
}
},
{
"data": {"name": "peaks"},
"mark": {"type": "text", "font": "Liberation Sans", "fontSize": 19, "color": "#8B0000", "align": "left", "baseline": "alphabetic"},
"encoding": {
"y": {"field": "i", "type": "quantitative", "scale": {"domain": [0, 100], "nice": false}, "axis": null},
"text": {"field": "t"}
}
},
{
"data": {"name": "rightaxis"},
"mark": {"type": "point", "opacity": 0},
"encoding": {
"y": {"field": "c", "type": "quantitative",
"scale": {"domain": [0, 3148.5], "nice": false},
"axis": {
"orient": "right", "title": null,
"values": [0, 3148.5], "format": ".1~f",
"labelFont": "Liberation Sans", "labelFontSize": 18, "labelFontWeight": "bold", "labelColor": "black",
"labelPadding": 6, "labelOverlap": false, "labelBaseline": "middle",
"labelOffset": {"condition": {"test": "datum.value > 0", "value": -6}, "value": 0},
"tickSize": 6, "tickColor": "black", "tickWidth": 1.5,
"domainColor": "black", "domainWidth": 2, "grid": false
}
}
}
}
],
"resolve": {"scale": {"y": "independent"}}
}
